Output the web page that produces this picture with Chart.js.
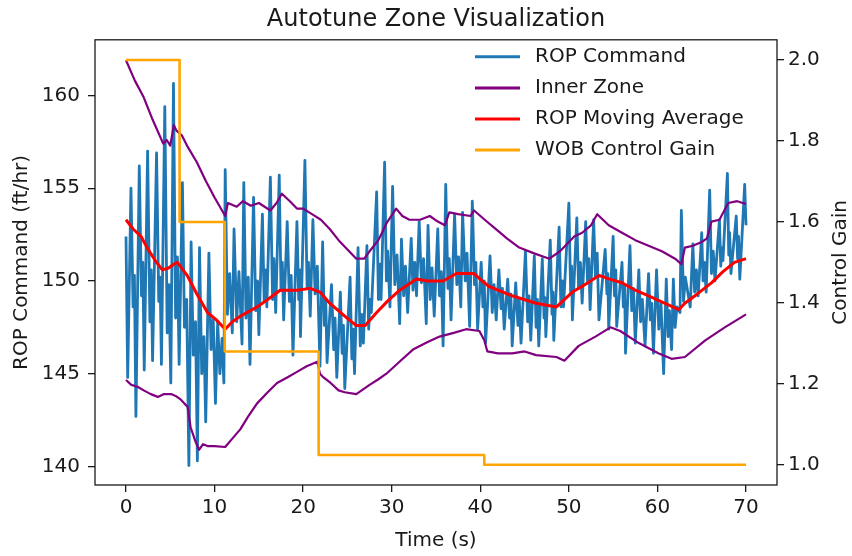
<!DOCTYPE html>
<html>
<head>
<meta charset="utf-8">
<title>Autotune Zone Visualization</title>
<script src="https://cdn.jsdelivr.net/npm/chart.js@4.4.0/dist/chart.umd.min.js"></script>
<style>
  html, body { margin: 0; padding: 0; background: #fff; }
  #wrap { width: 852px; height: 556px; }
</style>
</head>
<body>
<div id="wrap"><canvas id="myChart" width="852" height="556"></canvas></div>
<script>
// ROP command, roughly one spike per second (s, ft/hr)
const ropTime = [
  0, 0.19, 0.56, 0.8, 0.95,
  1.12, 1.5, 1.75, 1.9,
  2.06, 2.44, 2.7, 2.85,
  3.0, 3.45, 3.7, 3.85,
  4.0, 4.38, 4.65, 4.85,
  5.06, 5.36, 5.6, 5.8,
  6.0, 6.37, 6.6, 6.85,
  7.1, 7.35, 7.6, 7.85,
  8.06, 8.3, 8.55, 8.8,
  9.0, 9.36, 9.6, 9.85,
  10.1, 10.35, 10.6, 10.85,
  11.05, 11.2, 11.45, 11.7,
  12.0, 12.2, 12.5, 12.75,
  13.1, 13.3, 13.55, 13.8,
  14.0, 14.4, 14.65, 14.85,
  15.0, 15.4, 15.6, 15.75,
  15.9, 16.3, 16.55, 16.7,
  16.9, 17.3, 17.5, 17.65,
  17.8, 18.2, 18.45, 18.65,
  18.85, 19.3, 19.5, 19.6,
  19.7, 20.2, 20.45, 20.6,
  20.8, 21.1, 21.35, 21.6,
  21.9, 22.2, 22.4, 22.55,
  22.7, 23.2, 23.45, 23.6,
  23.8, 24.2, 24.4, 24.55,
  24.7, 25.3, 25.5, 25.65,
  25.8, 26.2, 26.45, 26.6,
  26.8, 27.2, 27.4, 27.55,
  27.7, 28.3, 28.5, 28.65,
  28.8, 29.2, 29.4, 29.55,
  29.8, 30.1, 30.35, 30.6,
  30.9, 31.1, 31.35, 31.55,
  31.8, 32.2, 32.4, 32.6,
  32.8, 33.1, 33.35, 33.6,
  33.9, 34.1, 34.35, 34.55,
  34.8, 35.2, 35.4, 35.6,
  35.8, 36.1, 36.35, 36.5,
  36.7, 37.1, 37.35, 37.55,
  37.8, 38.0, 38.3, 38.5,
  38.8, 39.1, 39.35, 39.5,
  39.7, 40.1, 40.3, 40.45,
  40.6, 41.1, 41.35, 41.55,
  41.8, 42.1, 42.35, 42.5,
  42.7, 43.1, 43.3, 43.45,
  43.6, 44.0, 44.25, 44.4,
  44.6, 45.1, 45.35, 45.5,
  45.7, 46.1, 46.3, 46.45,
  46.6, 47.0, 47.2, 47.3,
  47.4, 47.9, 48.1, 48.2,
  48.3, 48.9, 49.1, 49.25,
  49.4, 50.0, 50.2, 50.3,
  50.4, 50.9, 51.1, 51.3,
  51.5, 51.9, 52.1, 52.25,
  52.4, 52.8, 53.0, 53.2,
  53.4, 54.1, 54.3, 54.4,
  54.5, 55.0, 55.15, 55.3,
  55.4, 56.0, 56.15, 56.3,
  56.4, 56.9, 57.1, 57.3,
  57.5, 57.9, 58.1, 58.3,
  58.6, 59.0, 59.2, 59.35,
  59.55, 59.9, 60.15, 60.4,
  60.7, 61.0, 61.2, 61.35,
  61.6, 61.8, 62.0, 62.2,
  62.55, 62.7, 62.95, 63.15,
  63.7, 64.0, 64.2, 64.4,
  64.6, 65.0, 65.15, 65.3,
  65.5, 65.9, 66.1, 66.3,
  66.5, 67.0, 67.15, 67.25,
  67.4, 67.9, 68.05, 68.15,
  68.3, 68.9, 69.05, 69.15,
  69.3, 69.85, 70.0
];
const ropValue = [
  152.4, 144.8, 155.0, 148.6, 150.3,
  142.7, 156.2, 149.2, 151.0,
  145.2, 157.0, 147.8, 150.6,
  145.7, 156.9, 148.9, 150.2,
  145.5, 159.4, 147.2, 149.8,
  144.5, 160.65, 148.0, 151.3,
  145.5, 155.3, 147.5, 149.0,
  140.05, 152.1, 146.0, 147.8,
  140.3, 151.8, 145.0, 147.0,
  142.4, 151.5, 146.3, 147.9,
  143.4, 147.8, 145.0, 146.9,
  144.5, 156.0, 148.2, 150.4,
  147.2, 152.8, 147.8, 150.5,
  146.6, 155.3, 148.0, 150.2,
  145.5, 154.5, 148.4, 150.0,
  147.1, 153.6, 148.9, 150.6,
  148.6, 155.6, 149.0, 151.2,
  148.3, 155.7, 149.5, 151.0,
  147.9, 153.2, 148.9, 150.3,
  146.0, 153.2, 149.0, 150.6,
  147.0, 156.5, 149.6, 151.0,
  148.1, 153.3, 149.3, 150.8,
  145.4, 152.1, 147.6, 149.0,
  145.6, 149.8, 146.3, 148.0,
  144.8, 149.4, 146.1, 147.6,
  144.2, 150.2, 145.8, 147.4,
  145.0, 151.8, 146.5, 148.2,
  146.65, 151.9, 147.4, 149.0,
  148.3, 154.8, 149.0, 150.9,
  149.0, 156.4, 150.0, 151.6,
  148.6, 155.1, 149.8, 151.4,
  147.7, 152.25, 149.2, 150.8,
  148.3, 152.3, 149.5, 151.0,
  149.2, 153.2, 149.9, 151.2,
  147.7, 153.0, 149.0, 150.7,
  148.1, 152.8, 149.2, 150.5,
  146.5, 155.2, 149.6, 151.2,
  147.9, 153.6, 149.8, 151.3,
  148.6, 153.7, 150.0, 151.5,
  147.55, 154.3, 149.8, 151.0,
  147.4, 151.0, 148.6, 150.0,
  146.65, 151.35, 148.3, 149.8,
  147.9, 150.6, 148.5, 149.6,
  147.4, 150.1, 148.0, 149.3,
  146.5, 149.9, 147.6, 149.0,
  146.65, 151.6, 147.8, 149.2,
  146.8, 151.35, 147.5, 149.0,
  146.5, 151.2, 148.0, 149.1,
  147.0, 152.2, 148.2, 149.4,
  146.8, 152.9, 148.6, 150.0,
  148.6, 154.2, 149.4, 150.8,
  147.9, 153.4, 149.6, 151.0,
  148.8, 153.2, 150.0, 151.2,
  148.45, 153.3, 150.2, 151.5,
  147.9, 151.7, 149.3, 150.4,
  147.4, 152.4, 149.2, 150.6,
  147.55, 151.0, 148.6, 149.8,
  146.1, 151.9, 148.4, 149.6,
  146.65, 150.6, 147.8, 149.0,
  146.5, 150.4, 147.9, 148.8,
  146.1, 150.6, 147.4, 148.8,
  145.0, 150.1, 147.0, 148.4,
  146.3, 150.1, 147.5, 148.6,
  148.3, 153.8, 148.9, 150.2,
  148.6, 152.0, 149.4, 150.6,
  149.2, 152.6, 150.0, 151.0,
  149.4, 154.9, 150.4, 151.6,
  150.0, 153.3, 150.8, 151.8,
  151.1, 155.8, 151.4, 152.6,
  150.4, 153.5, 151.2, 152.4,
  150.1, 155.2, 153.0
];

// inner zone, upper edge
const upperTime = [0, 1, 2, 3, 4.2, 4.6, 5.0, 5.4, 5.7, 6.3, 7, 8, 9, 10, 11.2, 11.5, 12.5, 13.2, 14.1, 15,
  16.3, 17.0, 17.6, 18.5, 19.3, 20.0, 21, 22, 23, 24, 25, 26.0, 26.9, 27.5, 28.5, 29.4, 30.5, 31.2, 32.0,
  33.2, 34.3, 35.2, 36.0, 36.5, 37.5, 38.9, 39.3, 40.5, 42, 43, 44.4, 46, 47.8, 49, 50.6, 51.5, 52.5, 53.2,
  54.5, 56, 57.5, 59, 60.5, 62, 62.7, 63.1, 64, 65.0, 65.6, 66.1, 67, 68.0, 69, 70];
const upperValue = [161.9, 160.8, 159.9, 158.7, 157.4, 157.6, 157.3, 158.4, 158.1, 157.85, 157.2, 156.4, 155.4, 154.5, 153.5, 154.2, 154.0, 154.3, 154.05, 154.2,
  153.8, 154.2, 154.7, 154.3, 153.9, 153.9, 153.6, 153.3, 152.8, 152.2, 151.7, 151.2, 151.2, 151.6, 152.2, 153.1, 153.9, 153.5, 153.3,
  153.3, 153.5, 153.2, 153.0, 153.7, 153.6, 153.5, 153.8, 153.3, 152.7, 152.3, 151.8, 151.5, 151.2, 151.6, 152.4, 152.6, 153.0, 153.6,
  153.0, 152.6, 152.2, 151.9, 151.6, 151.2, 150.9, 151.8, 151.9, 152.1, 152.3, 153.2, 153.3, 154.2, 154.3, 154.15];

// inner zone, lower edge
const lowerTime = [0, 0.6, 1.3, 2, 2.8, 3.6, 4.3, 5.1, 5.6, 6.2, 6.96, 7.3, 7.8, 8.25, 8.7, 9.2, 10, 11.2, 12, 12.9,
  13.8, 14.8, 16, 17.05, 18.2, 19.3, 20.4, 21.6, 21.9, 22.3, 23.1, 24, 24.7, 26.0, 27.5, 28.5, 29.4, 31, 32.4,
  34, 35.4, 37, 38.4, 39.9, 40.45, 40.8, 42, 43.6, 45, 46.3, 48.6, 49.5, 51.1, 53, 54.7, 55.8, 57.9, 60.1,
  61.6, 63.1, 65.4, 67.6, 70];
const lowerValue = [144.66, 144.4, 144.3, 144.1, 143.9, 143.75, 143.9, 143.9, 143.8, 143.6, 143.2, 142.1, 141.4, 140.9, 141.2, 141.1, 141.1, 141.05, 141.5, 142.0,
  142.7, 143.4, 144.0, 144.5, 144.8, 145.1, 145.4, 145.65, 145.0, 144.8, 144.5, 144.1, 144.0, 143.9, 144.4, 144.7, 145.0, 145.7, 146.3,
  146.7, 147.0, 147.2, 147.4, 147.3, 146.8, 146.2, 146.1, 146.1, 146.2, 146.0, 145.9, 145.7, 146.5, 147.0, 147.5, 147.3, 146.65, 146.1,
  145.8, 145.9, 146.8, 147.5, 148.2];

// moving average of the command
const avgTime = [0, 0.8, 1.7, 2.5, 3.3, 4.1, 4.8, 5.4, 5.8, 6.9, 8, 9.2, 10.2, 11.2, 12.0, 12.9, 14.8, 16, 17.4, 18.5,
  19.3, 20.8, 21.9, 23, 24.2, 25.2, 26.0, 27.0, 28.3, 29.5, 30.9, 32.8, 34, 35.8, 37.3, 38.3, 39.3, 40.2, 41.0,
  43.6, 46.3, 48.6, 50.4, 51.8, 53.4, 54.6, 56.0, 57.5, 59.0, 60.8, 62.4, 63.1, 64.5, 66.1, 67.4, 68.7, 70];
const avgValue = [153.3, 152.8, 152.4, 151.7, 151.1, 150.6, 150.7, 150.9, 151.0, 150.3, 149.3, 148.3, 147.9, 147.4, 147.8, 148.1, 148.6, 149.0, 149.5, 149.5,
  149.5, 149.6, 149.4, 148.8, 148.3, 147.9, 147.6, 147.6, 148.3, 148.9, 149.5, 150.1, 150.0, 150.0, 150.4, 150.4, 150.4, 150.0, 149.7,
  149.2, 148.8, 148.6, 149.4, 149.8, 150.3, 150.1, 149.9, 149.5, 149.2, 148.8, 148.45, 148.8, 149.3, 149.9, 150.5, 151.0, 151.2];

// WOB control gain, stepped
const gainTime = [0, 6.05, 6.05, 11.15, 11.15, 21.75, 21.75, 40.45, 40.45, 70];
const gainValue = [2.0, 2.0, 1.6, 1.6, 1.28, 1.28, 1.024, 1.024, 1.0, 1.0];

const timeTicks = [0, 10, 20, 30, 40, 50, 60, 70];
const ropTicks = [140, 145, 150, 155, 160];
const gainTicks = [1.0, 1.2, 1.4, 1.6, 1.8, 2.0];

function toPoints(xs, ys) {
  const pts = [];
  for (let i = 0; i < xs.length; i++) {
    pts.push({ x: xs[i], y: ys[i] });
  }
  return pts;
}

const ink = "#1a1a1a";

Chart.defaults.font.family = "'DejaVu Sans', sans-serif";
Chart.defaults.font.size = 20;
Chart.defaults.color = ink;

// frame, right-hand axis name and legend drawn by hand
const extras = {
  id: "extras",
  afterDraw(chart) {
    const ctx = chart.ctx;
    const area = chart.chartArea;
    ctx.save();
    ctx.strokeStyle = ink;
    ctx.lineWidth = 1.3;
    ctx.strokeRect(area.left, area.top, area.right - area.left, area.bottom - area.top);

    ctx.fillStyle = ink;
    ctx.font = "20px 'DejaVu Sans'";
    ctx.textBaseline = "middle";

    // legend rows
    const seen = [];
    let row = 0;
    chart.data.datasets.forEach((ds) => {
      if (seen.includes(ds.label)) return;
      seen.push(ds.label);
      const y = area.top + 17 + row * 31.1;
      ctx.strokeStyle = ds.borderColor;
      ctx.lineWidth = 3;
      ctx.beginPath();
      ctx.moveTo(area.right - 302, y);
      ctx.lineTo(area.right - 257, y);
      ctx.stroke();
      ctx.textAlign = "left";
      ctx.fillText(ds.label, area.right - 242, y);
      row++;
    });

    // right axis title reads bottom to top
    ctx.translate(841, (area.top + area.bottom) / 2);
    ctx.rotate(-Math.PI / 2);
    ctx.textAlign = "center";
    ctx.fillText("Control Gain", 0, 0);
    ctx.restore();
  },
};

const tickGrid = {
  display: true,
  drawOnChartArea: false,
  drawTicks: true,
  tickLength: 7,
  color: ink,
  lineWidth: 1.3,
};

function loadChart() {
  const ctx = document.getElementById("myChart");
  new Chart(ctx, {
    type: "line",
    data: {
      datasets: [
        {
          label: "ROP Command",
          data: toPoints(ropTime, ropValue),
          borderColor: "#1f77b4",
          borderWidth: 2.8,
          yAxisID: "y",
          order: 5,
        },
        {
          label: "Inner Zone",
          data: toPoints(upperTime, upperValue),
          borderColor: "purple",
          borderWidth: 2.2,
          yAxisID: "y",
          order: 4,
        },
        {
          label: "Inner Zone",
          data: toPoints(lowerTime, lowerValue),
          borderColor: "purple",
          borderWidth: 2.2,
          yAxisID: "y",
          order: 4,
        },
        {
          label: "ROP Moving Average",
          data: toPoints(avgTime, avgValue),
          borderColor: "red",
          borderWidth: 3,
          yAxisID: "y",
          order: 2,
        },
        {
          label: "WOB Control Gain",
          data: toPoints(gainTime, gainValue),
          borderColor: "orange",
          borderWidth: 2.6,
          yAxisID: "y1",
          order: 1,
        },
      ],
    },
    options: {
      responsive: false,
      animation: false,
      events: [],
      layout: { padding: 0 },
      elements: {
        point: { radius: 0 },
        line: { tension: 0, fill: false, borderJoinStyle: "round" },
      },
      plugins: {
        legend: { display: false },
        tooltip: { enabled: false },
        title: {
          display: true,
          text: "Autotune Zone Visualization",
          fullSize: false,
          color: ink,
          font: { size: 24, weight: "normal" },
          padding: { top: 5, bottom: 6 },
        },
      },
      scales: {
        x: {
          type: "linear",
          min: -3.5,
          max: 73.5,
          grid: tickGrid,
          border: { display: false },
          afterBuildTicks: (s) => { s.ticks = timeTicks.map((v) => ({ value: v })); },
          afterFit: (s) => { s.height = 71; },
          ticks: { padding: 4, maxRotation: 0 },
          title: { display: true, text: "Time (s)", padding: { top: 0, bottom: 3 } },
        },
        y: {
          position: "left",
          min: 139.0,
          max: 163.0,
          grid: tickGrid,
          border: { display: false },
          afterBuildTicks: (s) => { s.ticks = ropTicks.map((v) => ({ value: v })); },
          afterFit: (s) => { s.width = 95; },
          ticks: { padding: 8 },
          title: { display: true, text: "ROP Command (ft/hr)", padding: { top: 9.5, bottom: 0 } },
        },
        y1: {
          position: "right",
          min: 0.95,
          max: 2.05,
          grid: tickGrid,
          border: { display: false },
          afterBuildTicks: (s) => { s.ticks = gainTicks.map((v) => ({ value: v })); },
          afterFit: (s) => { s.width = 75; },
          ticks: { padding: 4, callback: (v) => Number(v).toFixed(1) },
        },
      },
    },
    plugins: [extras],
  });
}

loadChart();
</script>
</body>
</html>
